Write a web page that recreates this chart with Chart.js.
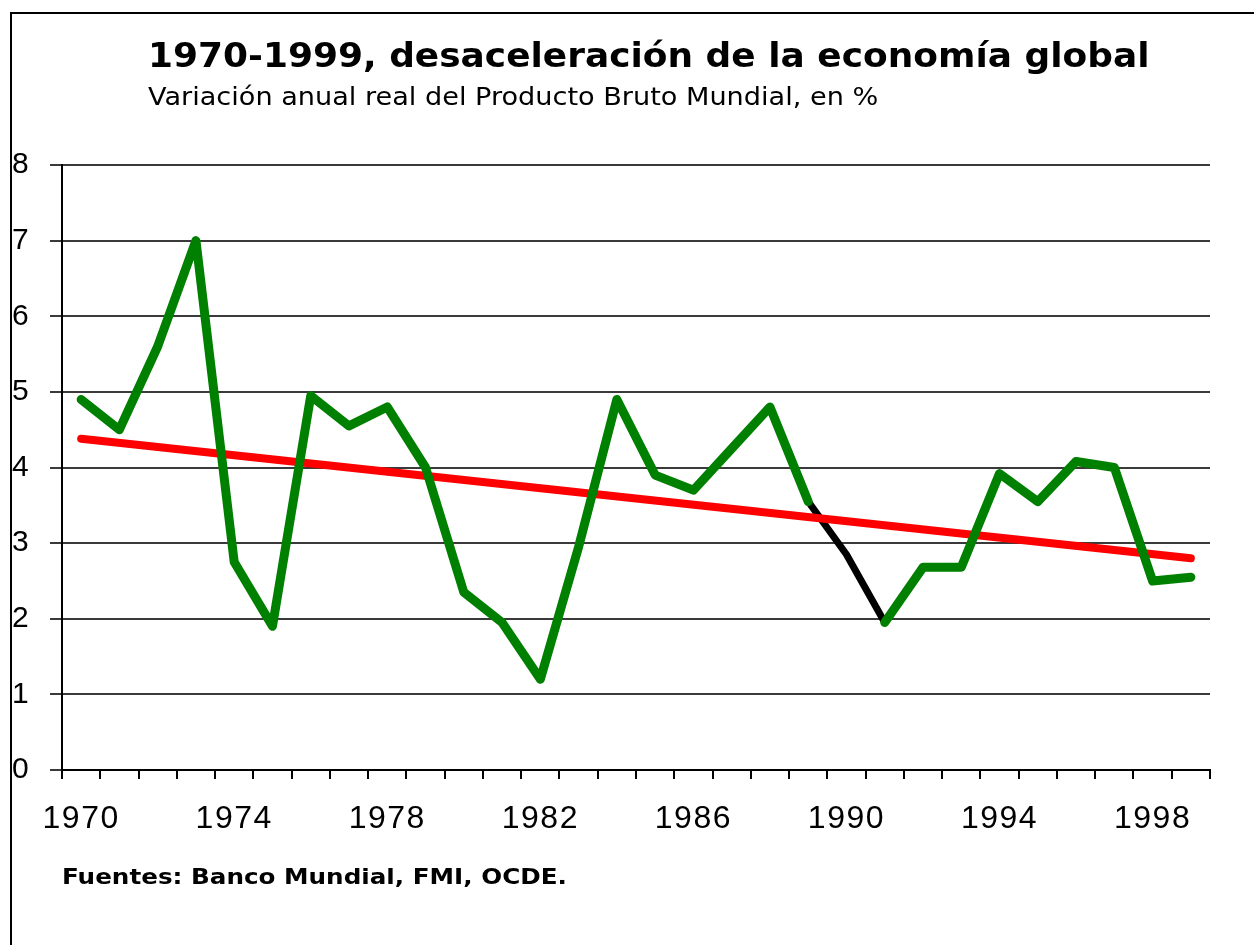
<!DOCTYPE html>
<html>
<head>
<meta charset="utf-8">
<script src="https://cdn.jsdelivr.net/npm/chart.js@4.4.1/dist/chart.umd.min.js"></script>
<style>
  html, body { margin: 0; padding: 0; background: #fff; }
  #marco { position: absolute; left: 0; top: 0; width: 1254px; height: 945px; overflow: hidden; }
  #borde { position: absolute; left: 10px; top: 12px; width: 1300px; height: 1000px; border-left: 2px solid #000; border-top: 2px solid #000; }
  .texto { position: absolute; color: #000; white-space: nowrap; transform-origin: 0 0; }
  #titulo { left: 148px; top: 35px; font: bold 34px "DejaVu Sans"; transform: scaleX(1.057); }
  #subtitulo { left: 148px; top: 83px; font: 24px "DejaVu Sans"; transform: scaleX(1.13); }
  #fuente { left: 62px; top: 864px; font: bold 22px "DejaVu Sans"; transform: scaleX(1.12); }
  #lienzo { position: absolute; left: 0; top: 0; width: 1254px; height: 945px; }
</style>
</head>
<body>
<div id="marco">
  <div id="lienzo"><canvas id="grafico"></canvas></div>
  <div id="borde"></div>
  <div id="titulo" class="texto">1970-1999, desaceleración de la economía global</div>
  <div id="subtitulo" class="texto">Variación anual real del Producto Bruto Mundial, en %</div>
  <div id="fuente" class="texto">Fuentes: Banco Mundial, FMI, OCDE.</div>
</div>
<script>
// Años (categorías)
var anios = ["1970", "1971", "1972", "1973", "1974", "1975", "1976", "1977", "1978", "1979",
             "1980", "1981", "1982", "1983", "1984", "1985", "1986", "1987", "1988", "1989",
             "1990", "1991", "1992", "1993", "1994", "1995", "1996", "1997", "1998", "1999"];

// Variación anual del producto mundial, en % (línea negra original)
var crecimiento = [4.9, 4.5, 5.6, 7.0, 2.75, 1.9, 4.95, 4.55, 4.8, 4.0,
                   2.35, 1.95, 1.2, 2.95, 4.9, 3.9, 3.7, 4.25, 4.8, 3.55,
                   2.85, 1.95, 2.68, 2.68, 3.92, 3.55, 4.08, 4.0, 2.5, 2.55];

// Trazo verde encima (sin el tramo 1989-1991)
var trazoVerde = [4.9, 4.5, 5.6, 7.0, 2.75, 1.9, 4.95, 4.55, 4.8, 4.0,
                  2.35, 1.95, 1.2, 2.95, 4.9, 3.9, 3.7, 4.25, 4.8, 3.55,
                  null, 1.95, 2.68, 2.68, 3.92, 3.55, 4.08, 4.0, 2.5, 2.55];

// Tendencia (extremos)
var tendencia = [4.38, null, null, null, null, null, null, null, null, null,
                 null, null, null, null, null, null, null, null, null, null,
                 null, null, null, null, null, null, null, null, null, 2.8];

// Etiquetas del eje Y
var ticksY = [0, 1, 2, 3, 4, 5, 6, 7, 8];

var datos = {
    labels: anios,
    datasets: [{
        label: 'Verde',
        data: trazoVerde,
        borderColor: '#008000',
        borderWidth: 9,
        spanGaps: false
    }, {
        label: 'Tendencia',
        data: tendencia,
        borderColor: '#ff0000',
        borderWidth: 8,
        spanGaps: true
    }, {
        label: 'Crecimiento',
        data: crecimiento,
        borderColor: '#000000',
        borderWidth: 7
    }]
};
datos.datasets.forEach(function (d) {
    d.pointRadius = 0;
    d.tension = 0;
    d.fill = false;
    d.borderJoinStyle = 'round';
    d.borderCapStyle = 'round';
});

// espaciado de letras en las etiquetas de los ejes
var espaciado = {
    id: 'espaciado',
    beforeDraw: function (chart) { chart.ctx.letterSpacing = '1.5px'; }
};

var opciones = {
    responsive: false,
    animation: false,
    layout: { padding: { left: 12, top: 165, right: 44, bottom: 115 } },
    plugins: { legend: { display: false }, tooltip: { enabled: false } },
    scales: {
        x: {
            type: 'category',
            offset: true,
            grid: { offset: true, drawOnChartArea: false, drawTicks: true, tickLength: 9, color: '#000', lineWidth: 2 },
            border: { color: '#000', width: 2 },
            ticks: {
                autoSkip: false,
                maxRotation: 0,
                padding: 21,
                color: '#000',
                font: { family: 'Liberation Sans', size: 32 },
                callback: function (v, i) { return i % 4 === 0 ? anios[i] : ''; }
            },
            afterFit: function (s) { s.height = 60; }
        },
        y: {
            min: 0,
            max: 8,
            afterBuildTicks: function (s) { s.ticks = ticksY.map(function (v) { return { value: v }; }); },
            grid: { color: '#3a3a3a', lineWidth: 2, tickLength: 12 },
            border: { color: '#000', width: 2 },
            ticks: {
                crossAlign: 'far',
                padding: 4,
                color: '#000',
                font: { family: 'Liberation Sans', size: 30 }
            },
            afterFit: function (s) { s.width = 50; }
        }
    }
};

var lienzo = document.getElementById('grafico');
lienzo.width = 1254;
lienzo.height = 945;
var grafico = new Chart(lienzo.getContext('2d'), {
    type: 'line',
    data: datos,
    options: opciones,
    plugins: [espaciado]
});
</script>
</body>
</html>
